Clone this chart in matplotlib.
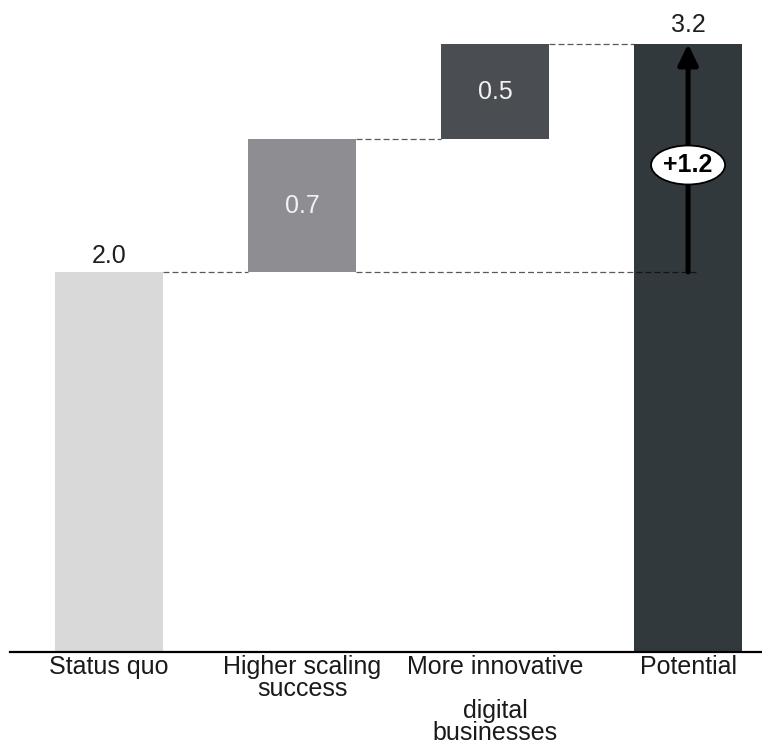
import matplotlib
matplotlib.use("Agg")
import matplotlib.pyplot as plt
from matplotlib.patches import Ellipse
from matplotlib.transforms import ScaledTranslation
import numpy as np

plt.rcParams['font.family'] = ['Liberation Sans', 'DejaVu Sans']
plt.rcParams['lines.scale_dashes'] = False

# Waterfall data
categories = ["Status quo", "Higher scaling\nsuccess",
              "More innovative\n\ndigital\nbusinesses", "Potential"]
values = [2.0, 0.7, 0.5, 3.2]
kinds = ["total", "delta", "delta", "total"]
bar_colors = ["#d9d9d9", "#8e8d92", "#4a4e53", "#32393c"]
label_colors = ["#1e1e1e", "#f2f2f2", "#f2f2f2", "#1e1e1e"]
label_offsets = [6.5, 0, 0, 8.5]  # points above the total bars

# bottoms / tops of each bar
bottoms, tops = [], []
running = 0.0
for v, k in zip(values, kinds):
    if k == "total":
        b, t = 0.0, v
        running = v
    else:
        b, t = running, running + v
        running = t
    bottoms.append(b)
    tops.append(t)

W, H = 762, 745
FS = 18
fig = plt.figure(figsize=(W / 100, H / 100), dpi=100)
ax = fig.add_axes([10 / W, 93 / H, 752 / W, 652 / H])

x = np.arange(len(categories))
bar_w = 0.56
heights = [t - b for b, t in zip(bottoms, tops)]
ax.bar(x, heights, bottom=bottoms, width=bar_w, color=bar_colors,
       edgecolor="none", zorder=2)

ax.set_xlim(-0.513, 3.383)
ax.set_ylim(0, 3.4316)

# dashed connectors
dash_kw = dict(color="black", alpha=0.65, lw=0.9, dashes=(4.3, 2.2), zorder=3)
half = bar_w / 2
ax.plot([x[0] + half, x[1] - half], [tops[0]] * 2, **dash_kw)
ax.plot([x[1] + half, x[3] + 0.05], [bottoms[1]] * 2, **dash_kw)
ax.plot([x[1] + half, x[2] - half], [tops[1]] * 2, **dash_kw)
ax.plot([x[2] + half, x[3] - half], [tops[2]] * 2, **dash_kw)

# value labels
for i, (v, k) in enumerate(zip(values, kinds)):
    if k == "total":
        ax.annotate(f"{v:.1f}", xy=(x[i], tops[i]),
                    xytext=(0, label_offsets[i]),
                    textcoords="offset points", ha="center", va="baseline",
                    fontsize=FS, color=label_colors[i])
    else:
        ax.text(x[i], (bottoms[i] + tops[i]) / 2, f"{v:.1f}", ha="center",
                va="center", fontsize=FS, color=label_colors[i])

# uplift arrow from status quo to potential
start, end = values[0], values[3]
ax.annotate("", xy=(x[3], end), xytext=(x[3], start),
            arrowprops=dict(arrowstyle="-|>,head_length=0.62,head_width=0.3",
                            mutation_scale=20, lw=3.6, color="black",
                            shrinkA=0, shrinkB=0), zorder=4)

mid = (start + end) / 2
off = ScaledTranslation(x[3], mid, ax.transData) + \
    ScaledTranslation(0, -7 / 100, fig.dpi_scale_trans)
ell = Ellipse((0, 0), 0.74, 0.39, transform=fig.dpi_scale_trans + off,
              facecolor="white", edgecolor="black", lw=1.3, zorder=5)
ax.add_patch(ell)
ax.text(0, 0, f"+{end - start:.1f}", transform=fig.dpi_scale_trans + off,
        ha="center", va="center", fontsize=FS, fontweight="bold",
        color="black", zorder=6)

# axes styling
for s in ["top", "left", "right"]:
    ax.spines[s].set_visible(False)
ax.spines["bottom"].set_linewidth(1.6)
ax.spines["bottom"].set_color("black")
ax.set_yticks([])
ax.set_xticks(x)
ax.set_xticklabels(categories, fontsize=FS, color="#1a1a1a", linespacing=0.9)
ax.tick_params(axis="x", length=0, pad=2)

fig.savefig("out.png", dpi=100)
